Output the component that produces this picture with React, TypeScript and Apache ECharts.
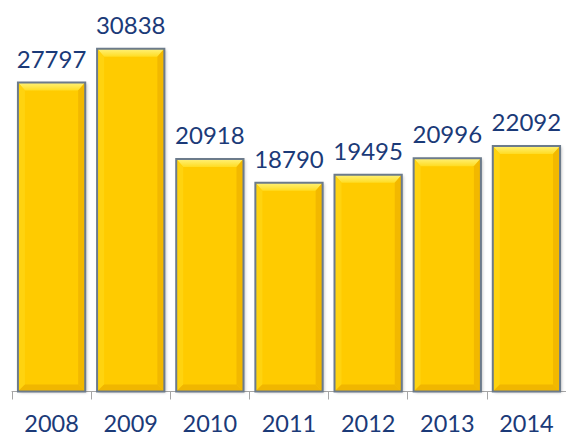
import React, { useEffect, useRef } from "react";
import * as echarts from "echarts";

const years = ["2008", "2009", "2010", "2011", "2012", "2013", "2014"];
const values = [27797, 30838, 20918, 18790, 19495, 20996, 22092];

const LABEL_COLOR = "#1b3a78";
const FONT = "Lato, 'Open Sans', sans-serif";

export default function App() {
  const ref = useRef<HTMLDivElement>(null);
  useEffect(() => {
    if (!ref.current) return;
    const chart = echarts.init(ref.current, null, { renderer: "svg" });
    const option: any = {
      animation: false,
      backgroundColor: "#ffffff",
      grid: { left: 12, width: 560, top: 2.5, bottom: 45.5 },
      xAxis: {
        type: "category",
        data: years,
        axisLine: { lineStyle: { color: "#a6a6a6", width: 1 } },
        axisTick: { show: true, length: 8, lineStyle: { color: "#a6a6a6" } },
        axisLabel: {
          color: LABEL_COLOR,
          fontSize: 23.5,
          lineHeight: 22,
          fontFamily: FONT,
          margin: 20,
        },
      },
      yAxis: {
        type: "value",
        min: 0,
        max: 35000,
        show: false,
        splitLine: { show: false },
      },
      series: [
        {
          type: "custom",
          data: values.map((v, i) => [i, v]),
          encode: { x: 0, y: 1 },
          renderItem: (params: any, api: any) => {
            const idx = api.value(0);
            const val = api.value(1);
            const top = api.coord([idx, val]);
            const bottom = api.coord([idx, 0]);
            const band = api.size([1, 0])[0];
            const w = band * 0.85;
            const x = top[0] - w / 2;
            const y = top[1];
            const yb = bottom[1];
            const h = yb - y;
            const b = 7;
            return {
              type: "group",
              children: [
                {
                  type: "rect",
                  shape: { x, y, width: w, height: h },
                  style: {
                    fill: "#ffcb00",
                    shadowBlur: 3,
                    shadowOffsetX: 1.5,
                    shadowOffsetY: 1,
                    shadowColor: "rgba(0,0,0,0.25)",
                  },
                },
                {
                  type: "polygon",
                  shape: {
                    points: [
                      [x, y],
                      [x + w, y],
                      [x + w - b, y + b + 1],
                      [x + b, y + b + 1],
                    ],
                  },
                  style: {
                    fill: new echarts.graphic.LinearGradient(0, 0, 0, 1, [
                      { offset: 0, color: "#fff27a" },
                      { offset: 1, color: "#ffdc22" },
                    ]),
                  },
                },
                {
                  type: "polygon",
                  shape: {
                    points: [
                      [x, y],
                      [x + b, y + b + 1],
                      [x + b, yb - b],
                      [x, yb],
                    ],
                  },
                  style: { fill: "#ffd30f" },
                },
                {
                  type: "polygon",
                  shape: {
                    points: [
                      [x + w, y],
                      [x + w - b, y + b + 1],
                      [x + w - b, yb - b],
                      [x + w, yb],
                    ],
                  },
                  style: { fill: "#f2b800" },
                },
                {
                  type: "polygon",
                  shape: {
                    points: [
                      [x, yb],
                      [x + b, yb - b],
                      [x + w - b, yb - b],
                      [x + w, yb],
                    ],
                  },
                  style: { fill: "#f0b600" },
                },
                {
                  type: "rect",
                  shape: { x, y, width: w, height: h },
                  style: { fill: null, stroke: "#6c7b8b", lineWidth: 2 },
                },
                {
                  type: "text",
                  style: {
                    text: String(val),
                    x: top[0],
                    y: y - 24.5,
                    align: "center",
                    verticalAlign: "middle",
                    fill: LABEL_COLOR,
                    fontSize: 24,
                    fontFamily: FONT,
                  },
                },
              ],
            };
          },
        },
      ],
    };
    chart.setOption(option);
    return () => chart.dispose();
  }, []);
  return (
    <div
      ref={ref}
      style={{ position: "absolute", left: 0, top: 0, width: 566, height: 437 }}
    />
  );
}
